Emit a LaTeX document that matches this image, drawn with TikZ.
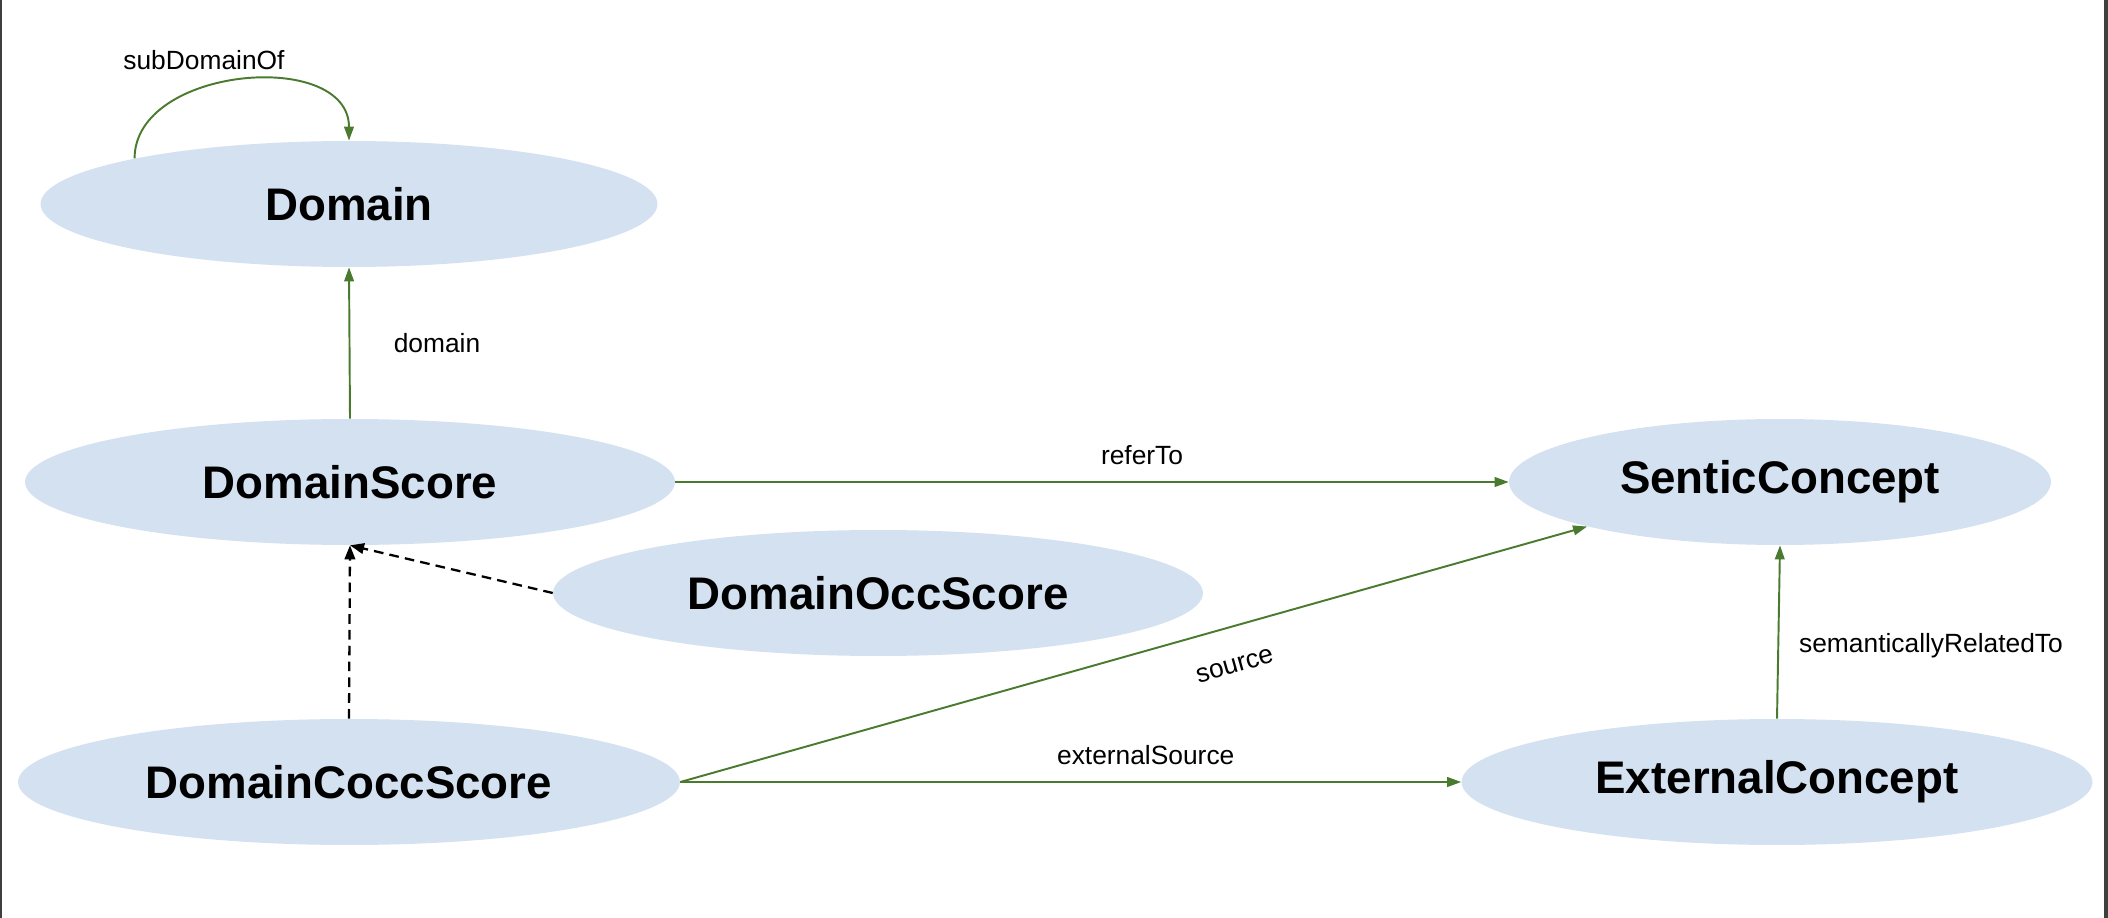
\documentclass[tikz,border=0pt]{standalone}
\usepackage{fontspec}
\setmainfont{Liberation Sans}
\usetikzlibrary{arrows.meta, shapes.geometric}
\definecolor{conceptblue}{HTML}{D4E1F0}
\definecolor{relgreen}{HTML}{4A7A2E}
\definecolor{framegray}{HTML}{3F3F3F}

\begin{document}
\begin{tikzpicture}[x=0.02cm, y=-0.02cm,
        concept/.style={ellipse, fill=conceptblue, inner sep=0pt, minimum height=2.52cm,
            font=\fontsize{26}{30}\selectfont\bfseries},
        rel/.style={relgreen, line width=1.1pt, -{Triangle[length=8pt, width=5.5pt]}},
        isa/.style={black, line width=1.3pt, dash pattern=on 5.5pt off 3.5pt,
            -{Triangle[length=8pt, width=6pt]}},
        lbl/.style={black, font=\fontsize{15}{17}\selectfont}]
        \useasboundingbox (0,0) rectangle (2108,918);
        \fill[framegray] (0,0) rectangle (2,918);
        \fill[framegray] (2104,0) rectangle (2108,918);

        \node[concept, minimum width=12.34cm] (dom) at (349,204) {Domain};
        \node[concept, minimum width=13cm] (ds) at (350,482) {DomainScore};
        \node[concept, minimum width=13cm] (dos) at (878,593) {DomainOccScore};
        \node[concept, minimum width=13.24cm] (dcs) at (349,782) {DomainCoccScore};
        \node[concept, minimum width=10.84cm] (sc) at (1780,482) {SenticConcept};
        \node[concept, minimum width=12.62cm] (ec) at (1777,782) {ExternalConcept};

        \draw[rel] (dom.168) to[out=90, in=90, looseness=1.1]
            node[lbl, pos=0.38, above, yshift=6pt] {subDomainOf} (dom.north);
        \draw[rel] (ds.north) -- node[lbl, right=0.75cm] {domain} (dom.south);
        \draw[rel] (ds.east) -- node[lbl, pos=0.56, above, yshift=6pt] {referTo} (sc.west);
        \draw[rel] (dcs.east) -- node[lbl, pos=0.6, sloped, below, yshift=-14pt] {source} (sc.193);
        \draw[rel] (dcs.east) -- node[lbl, pos=0.596, above, yshift=6pt] {externalSource} (ec.west);
        \draw[rel] (ec.north) -- node[lbl, pos=0.42, right, xshift=8pt] {semanticallyRelatedTo} (sc.south);

        \draw[isa] (dos.west) -- (ds.south);
        \draw[isa] (dcs.north) -- (ds.south);
    \end{tikzpicture}
\end{document}
